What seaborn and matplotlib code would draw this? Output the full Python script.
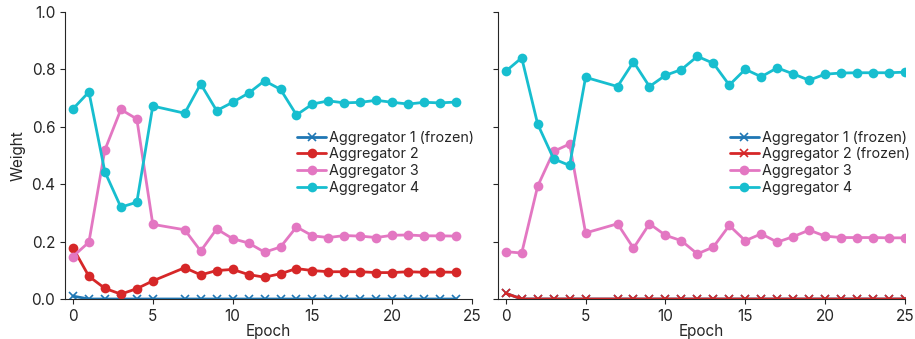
import numpy as np
import pandas as pd
import seaborn as sns
import matplotlib
matplotlib.use('Agg')
import matplotlib.pyplot as plt

sns.set_style('ticks')
plt.rcParams['font.family'] = ['Inter', 'DejaVu Sans']

# epoch 6 is missing in both runs
epochs_left = [0, 1, 2, 3, 4, 5, 7, 8, 9, 10, 11, 12, 13, 14, 15, 16, 17, 18, 19, 20, 21, 22, 23, 24]
epochs_right = epochs_left + [25]

# left run: only aggregator 1 frozen
left_agg1 = [0.010] + [0.0] * 23
left_agg2 = [0.178, 0.079, 0.037, 0.017, 0.036, 0.063, 0.109, 0.084, 0.099, 0.103, 0.085, 0.076,
             0.088, 0.106, 0.099, 0.095, 0.095, 0.095, 0.092, 0.092, 0.095, 0.093, 0.094, 0.093]
left_agg3 = [0.148, 0.198, 0.519, 0.660, 0.627, 0.260, 0.241, 0.167, 0.244, 0.210, 0.195, 0.163,
             0.181, 0.251, 0.220, 0.214, 0.221, 0.219, 0.214, 0.222, 0.223, 0.220, 0.220, 0.219]
left_agg4 = [0.662, 0.721, 0.443, 0.320, 0.337, 0.672, 0.647, 0.749, 0.656, 0.685, 0.717, 0.760,
             0.730, 0.641, 0.679, 0.690, 0.683, 0.685, 0.692, 0.685, 0.679, 0.685, 0.683, 0.686]

# right run: aggregators 1 and 2 frozen
right_agg1 = [0.020] + [0.0] * 24
right_agg2 = [0.020] + [0.0] * 24
right_agg3 = [0.165, 0.160, 0.393, 0.514, 0.540, 0.230, 0.262, 0.177, 0.262, 0.222, 0.203, 0.157,
              0.181, 0.256, 0.203, 0.227, 0.198, 0.217, 0.240, 0.219, 0.214, 0.214, 0.214, 0.213, 0.213]
right_agg4 = [0.793, 0.840, 0.609, 0.488, 0.465, 0.772, 0.740, 0.826, 0.740, 0.779, 0.799, 0.845,
              0.821, 0.745, 0.800, 0.774, 0.805, 0.784, 0.762, 0.783, 0.787, 0.788, 0.788, 0.788, 0.790]

colors = ['#1f77b4', '#d62728', '#e377c2', '#17becf']

fig = plt.figure(figsize=(9.15, 3.39), dpi=100)
ax1 = fig.add_axes([0.071, 0.118, 0.445, 0.847])
ax2 = fig.add_axes([0.544, 0.118, 0.445, 0.847], sharey=ax1)

panels = [
    (ax1, epochs_left, [left_agg1, left_agg2, left_agg3, left_agg4],
     ['Aggregator 1 (frozen)', 'Aggregator 2', 'Aggregator 3', 'Aggregator 4'],
     ['x', 'o', 'o', 'o']),
    (ax2, epochs_right, [right_agg1, right_agg2, right_agg3, right_agg4],
     ['Aggregator 1 (frozen)', 'Aggregator 2 (frozen)', 'Aggregator 3', 'Aggregator 4'],
     ['x', 'x', 'o', 'o']),
]

for ax, ep, series, labels, markers in panels:
    for vals, lab, col, mk in zip(series, labels, colors, markers):
        df = pd.DataFrame({'Epoch': ep, 'Weight': vals})
        ms = 6 if mk == 'x' else 7
        sns.lineplot(data=df, x='Epoch', y='Weight', ax=ax, color=col, marker=mk,
                     markersize=ms, linewidth=2, label=lab, markeredgecolor=col,
                     markeredgewidth=1.2 if mk == 'x' else 0)
    ax.set_xlim(-0.5, 25)
    ax.set_ylim(0, 1.0)
    ax.set_xticks([0, 5, 10, 15, 20, 25])
    ax.set_yticks([0.0, 0.2, 0.4, 0.6, 0.8, 1.0])
    ax.tick_params(labelsize=11)
    ax.set_xlabel('Epoch', fontsize=11, labelpad=0)
    sns.despine(ax=ax)

ax1.set_ylabel('Weight', fontsize=11)
ax2.set_ylabel('')
ax2.tick_params(labelleft=False)

for ax in (ax1, ax2):
    ax.legend(loc='center left', bbox_to_anchor=(0.546, 0.474), frameon=False, fontsize=10.3,
              labelspacing=0.2, handletextpad=0.2, borderpad=0.2, handlelength=2.0)

fig.savefig('out.png', dpi=100)
